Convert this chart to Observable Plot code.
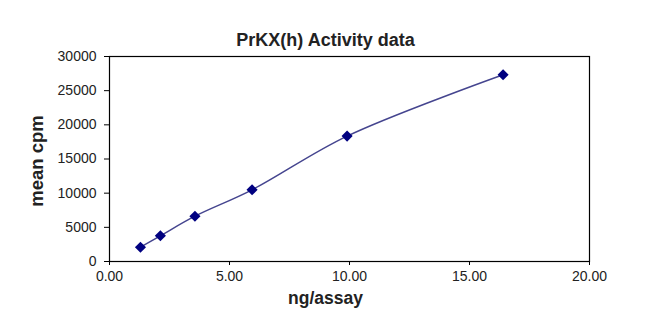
<!DOCTYPE html>
<html>
<head>
<meta charset="utf-8">
<script src="https://cdn.jsdelivr.net/npm/d3@7"></script>
<script src="https://cdn.jsdelivr.net/npm/@observablehq/plot@0.6"></script>
<style>
  html, body { margin: 0; padding: 0; background: #fff; }
  #chart svg { display: block; }
</style>
</head>
<body>
<div id="chart"></div>
<script>
const title = "PrKX(h) Activity data";
const xLabel = "ng/assay";
const yLabel = "mean cpm";
const ngAssay = [1.29, 2.12, 3.56, 5.94, 9.90, 16.40];
const meanCpm = [2090, 3760, 6630, 10490, 18350, 27330];
const xTicks = [0, 5, 10, 15, 20];
const yTicks = [0, 5000, 10000, 15000, 20000, 25000, 30000];

const data = ngAssay.map((x, i) => ({x, y: meanCpm[i]}));

const chart = Plot.plot({
  width: 650,
  height: 322,
  marginTop: 56,
  marginLeft: 109,
  marginRight: 61,
  marginBottom: 61,
  style: {fontFamily: "Arial, 'Liberation Sans', sans-serif", fontSize: "14px", color: "#000", background: "#fff"},
  x: {domain: [0, 20]},
  y: {domain: [0, 30000]},
  marks: [
    Plot.frame({stroke: "#000", strokeWidth: 1.2}),
    Plot.axisX({ticks: xTicks, tickFormat: d3.format(".2f"), tickSize: 4, tickPadding: 6, label: null, fontSize: 14, fill: "#222"}),
    Plot.axisY({ticks: yTicks, tickFormat: d3.format("d"), tickSize: 5, tickPadding: 8, label: null, fontSize: 14, fill: "#222"}),
    Plot.text([xLabel], {frameAnchor: "bottom", dx: -24, dy: 42, fontSize: 17.5, fontWeight: "bold", fill: "#222", text: d => d}),
    Plot.text([yLabel], {frameAnchor: "left", textAnchor: "middle", dx: -72, dy: 2, rotate: -90, fontSize: 18.5, fontWeight: "bold", fill: "#222", text: d => d}),
    Plot.text([title], {frameAnchor: "top", dx: -24, dy: -23, fontSize: 18, fontWeight: "bold", fill: "#222", text: d => d}),
    Plot.line(data, {x: "x", y: "y", curve: "catmull-rom", stroke: "#45458f", strokeWidth: 1.5}),
    Plot.dot(data, {x: "x", y: "y", symbol: "diamond2", r: 5, fill: "#000080", stroke: "none"})
  ]
});
document.getElementById("chart").appendChild(chart);
</script>
</body>
</html>
